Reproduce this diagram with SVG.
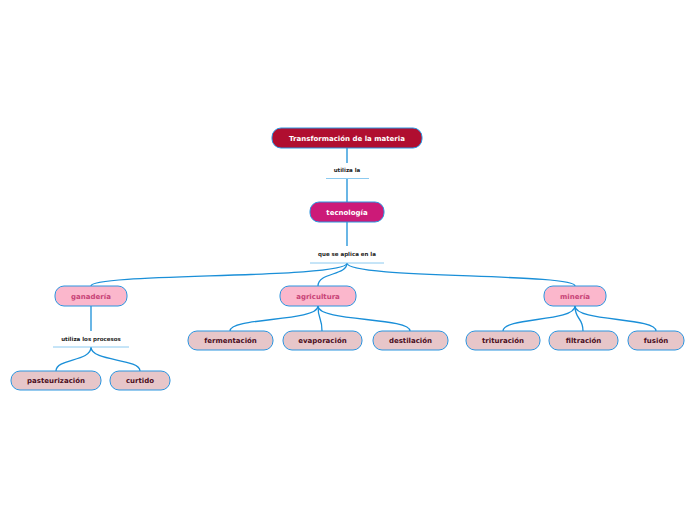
<svg xmlns="http://www.w3.org/2000/svg" width="696" height="520" viewBox="0 0 696 520">
<style>
.n rect{stroke:#2a95e0;stroke-width:1}
.n text{font-family:"DejaVu Sans",sans-serif;font-weight:bold;font-size:7px;text-anchor:middle}
.c path{fill:none;stroke:#1a8fd8;stroke-width:1.3}
.u{stroke:#8ccaf0;stroke-width:1}
.lbl{font-family:"DejaVu Sans",sans-serif;font-weight:bold;font-size:5.5px;text-anchor:middle;fill:#222}
.l1 rect{fill:#b00e30}.l1 text{fill:#fff}
.l2 rect{fill:#cc1a78}.l2 text{fill:#fff}
.l3 rect{fill:#fbb7cc}.l3 text{fill:#c84377}
.l4 rect{fill:#e7c6c9}.l4 text{fill:#4a0d1c}
</style>
<rect width="696" height="520" fill="#fff"/>
<g id="connectors" class="c">
<path d="M347,148 V163"/>
<path d="M347,179 V202"/>
<path d="M347,222 V246"/>
<path d="M347,263 C347,279 91,273 91,286"/>
<path d="M347,263 C347,276 318,272 318,286"/>
<path d="M347,263 C347,279 575,273 575,286"/>
<path d="M91,306 V331"/>
<path d="M91,347 C91,362 56,358 56,371"/>
<path d="M91,347 C91,362 140,358 140,371"/>
<path d="M318,306 C318,322 230,317 230,331"/>
<path d="M318,306 C318,320 322,317 322,331"/>
<path d="M318,306 C318,322 410,317 410,331"/>
<path d="M575,306 C575,322 503,317 503,331"/>
<path d="M575,306 C575,320 583,317 583,331"/>
<path d="M575,306 C575,322 656,317 656,331"/>
</g>
<g id="labels">
<text class="lbl" x="347" y="172">utiliza la</text>
<line class="u" x1="326" y1="178.5" x2="369" y2="178.5"/>
<text class="lbl" x="347" y="256">que se aplica en la</text>
<line class="u" x1="310" y1="263" x2="384" y2="263"/>
<text class="lbl" x="91" y="341">utiliza los procesos</text>
<line class="u" x1="53" y1="347" x2="129" y2="347"/>
</g>
<g id="n-root" class="n l1"><rect x="272" y="128" width="150" height="20" rx="9"/><text x="347" y="140.5">Transformación de la materia</text></g>
<g id="n-tecnologia" class="n l2"><rect x="310" y="202" width="74" height="20" rx="9"/><text x="347" y="214.5">tecnología</text></g>
<g id="n-ganaderia" class="n l3"><rect x="55" y="286" width="72" height="20" rx="9"/><text x="91" y="298.5">ganadería</text></g>
<g id="n-agricultura" class="n l3"><rect x="280" y="286" width="76" height="20" rx="9"/><text x="318" y="298.5">agricultura</text></g>
<g id="n-mineria" class="n l3"><rect x="544" y="286" width="62" height="20" rx="9"/><text x="575" y="298.5">minería</text></g>
<g id="n-pasteurizacion" class="n l4"><rect x="11" y="371" width="90" height="19" rx="9"/><text x="56" y="383">pasteurización</text></g>
<g id="n-curtido" class="n l4"><rect x="110" y="371" width="60" height="19" rx="9"/><text x="140" y="383">curtido</text></g>
<g id="n-fermentacion" class="n l4"><rect x="188" y="331" width="85" height="19" rx="9"/><text x="230.5" y="343">fermentación</text></g>
<g id="n-evaporacion" class="n l4"><rect x="283" y="331" width="79" height="19" rx="9"/><text x="322.5" y="343">evaporación</text></g>
<g id="n-destilacion" class="n l4"><rect x="373" y="331" width="75" height="19" rx="9"/><text x="410.5" y="343">destilación</text></g>
<g id="n-trituracion" class="n l4"><rect x="466" y="331" width="74" height="19" rx="9"/><text x="503" y="343">trituración</text></g>
<g id="n-filtracion" class="n l4"><rect x="549" y="331" width="69" height="19" rx="9"/><text x="583.5" y="343">filtración</text></g>
<g id="n-fusion" class="n l4"><rect x="628" y="331" width="56" height="19" rx="9"/><text x="656" y="343">fusión</text></g>
</svg>
